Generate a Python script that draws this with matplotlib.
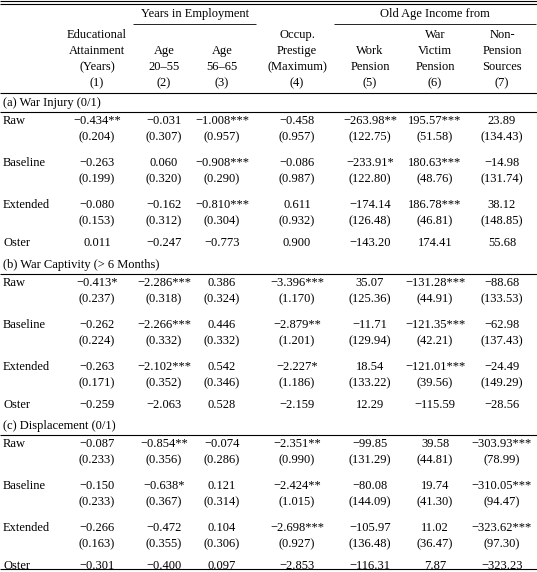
import matplotlib
matplotlib.use("Agg")
import matplotlib.pyplot as plt

# column headers
head_rows = [
    ["Educational", "", "", "Occup.", "", "War", "Non-"],
    ["Attainment", "Age", "Age", "Prestige", "Work", "Victim", "Pension"],
    ["(Years)", "20\u201355", "56\u201365", "(Maximum)", "Pension", "Pension", "Sources"],
    ["(1)", "(2)", "(3)", "(4)", "(5)", "(6)", "(7)"],
]

sections = ["(a) War Injury (0/1)", "(b) War Captivity (> 6 Months)", "(c) Displacement (0/1)"]
row_labels = ["Raw", "Baseline", "Extended", "Oster"]

coef_a = [
    ["\u22120.434**", "\u22120.031", "\u22121.008***", "\u22120.458", "\u2212263.98**", "195.57***", "23.89"],
    ["\u22120.263", "0.060", "\u22120.908***", "\u22120.086", "\u2212233.91*", "180.63***", "\u221214.98"],
    ["\u22120.080", "\u22120.162", "\u22120.810***", "0.611", "\u2212174.14", "186.78***", "38.12"],
    ["0.011", "\u22120.247", "\u22120.773", "0.900", "\u2212143.20", "174.41", "55.68"],
]
se_a = [
    ["(0.204)", "(0.307)", "(0.957)", "(0.957)", "(122.75)", "(51.58)", "(134.43)"],
    ["(0.199)", "(0.320)", "(0.290)", "(0.987)", "(122.80)", "(48.76)", "(131.74)"],
    ["(0.153)", "(0.312)", "(0.304)", "(0.932)", "(126.48)", "(46.81)", "(148.85)"],
]
coef_b = [
    ["\u22120.413*", "\u22122.286***", "0.386", "\u22123.396***", "35.07", "\u2212131.28***", "\u221288.68"],
    ["\u22120.262", "\u22122.266***", "0.446", "\u22122.879**", "\u221211.71", "\u2212121.35***", "\u221262.98"],
    ["\u22120.263", "\u22122.102***", "0.542", "\u22122.227*", "18.54", "\u2212121.01***", "\u221224.49"],
    ["\u22120.259", "\u22122.063", "0.528", "\u22122.159", "12.29", "\u2212115.59", "\u221228.56"],
]
se_b = [
    ["(0.237)", "(0.318)", "(0.324)", "(1.170)", "(125.36)", "(44.91)", "(133.53)"],
    ["(0.224)", "(0.332)", "(0.332)", "(1.201)", "(129.94)", "(42.21)", "(137.43)"],
    ["(0.171)", "(0.352)", "(0.346)", "(1.186)", "(133.22)", "(39.56)", "(149.29)"],
]
coef_c = [
    ["\u22120.087", "\u22120.854**", "\u22120.074", "\u22122.351**", "\u221299.85", "39.58", "\u2212303.93***"],
    ["\u22120.150", "\u22120.638*", "0.121", "\u22122.424**", "\u221280.08", "19.74", "\u2212310.05***"],
    ["\u22120.266", "\u22120.472", "0.104", "\u22122.698***", "\u2212105.97", "11.02", "\u2212323.62***"],
    ["\u22120.301", "\u22120.400", "0.097", "\u22122.853", "\u2212116.31", "7.87", "\u2212323.23"],
]
se_c = [
    ["(0.233)", "(0.356)", "(0.286)", "(0.990)", "(131.29)", "(44.81)", "(78.99)"],
    ["(0.233)", "(0.367)", "(0.314)", "(1.015)", "(144.09)", "(41.30)", "(94.47)"],
    ["(0.163)", "(0.355)", "(0.306)", "(0.927)", "(136.48)", "(36.47)", "(97.30)"],
]

W, H = 537, 572
fig = plt.figure(figsize=(W / 100, H / 100), dpi=100)
ax = fig.add_axes([0, 0, 1, 1])
ax.set_xlim(0, W)
ax.set_ylim(H, 0)
ax.set_axis_off()

FONT = dict(family="Liberation Serif", fontsize=9, color="black")
col_x = [97, 164, 222, 297, 370, 435, 502]
row_off = [0, 42, 84, 122]


def hline(y, x0=0, x1=W, lw=0.8):
    ax.plot([x0, x1], [y, y], color="black", lw=lw, solid_capstyle="butt")


def txt(x, y, s, ha="center"):
    ax.text(x, y, s, ha=ha, va="center", **FONT)


hline(1.0)
hline(3.5)
txt(195, 14, "Years in Employment")
hline(24, 133, 256, lw=0.6)
txt(435, 14, "Old Age Income from")
hline(24, 334, 536, lw=0.6)
for i, row in enumerate(head_rows):
    for x, s in zip(col_x, row):
        if s:
            txt(x, 35 + 16 * i, s)
hline(93)

blocks = [(coef_a, se_a), (coef_b, se_b), (coef_c, se_c)]
starts = [93, 255, 416]
for title, (coef, se), y0 in zip(sections, blocks, starts):
    txt(3, y0 + 10, title, ha="left")
    hline(y0 + 19)
    for r, label in enumerate(row_labels):
        y = y0 + 28 + row_off[r]
        txt(3, y, label, ha="left")
        for x, s in zip(col_x, coef[r]):
            txt(x, y, s)
        if r < 3:
            for x, s in zip(col_x, se[r]):
                txt(x, y + 16, s)
hline(569)

fig.savefig("out.png", dpi=100)
